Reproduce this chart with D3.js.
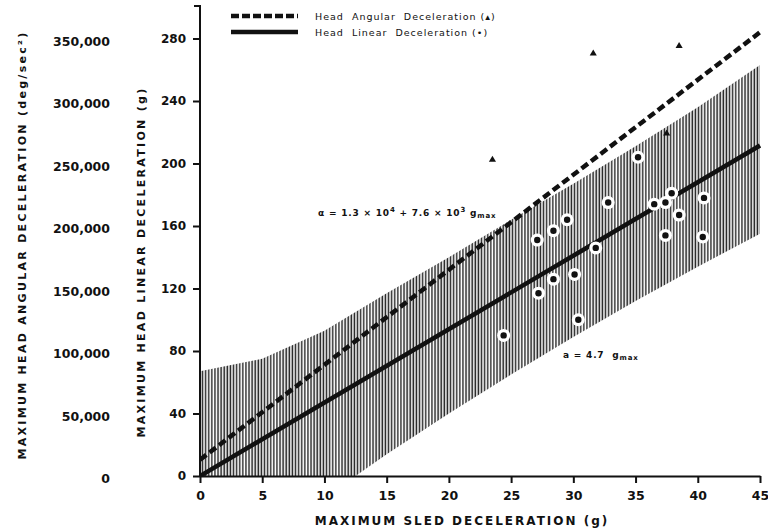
<!DOCTYPE html>
<html><head><meta charset="utf-8">
<script src="https://cdn.jsdelivr.net/npm/d3@7"></script>
<style>body{margin:0;background:#fff}svg{display:block}</style>
</head><body><svg id="c" width="768" height="532"></svg>
<script>
// ---- data ----
const xTicks = [0, 5, 10, 15, 20, 25, 30, 35, 40, 45];
const linearTicks = [0, 40, 80, 120, 160, 200, 240, 280];
const angularTicks = [0, 50000, 100000, 150000, 200000, 250000, 300000, 350000];
const angularTickLabels = ["0", "50,000", "100,000", "150,000", "200,000", "250,000", "300,000", "350,000"];

// Head linear deceleration points (g_sled, a in g)
const linearG = [24.4, 27.1, 27.2, 28.4, 28.4, 29.5, 30.1, 30.4, 31.8, 32.8, 35.2, 36.5, 37.4, 37.9, 38.5, 37.4, 40.5, 40.4];
const linearA = [90, 151, 117, 157, 126, 164, 129, 100, 146, 175, 204, 174, 175, 181, 167, 154, 178, 153];

// Head angular deceleration points (g_sled, alpha in deg/sec^2)
const angularG = [23.5, 31.6, 37.5, 38.5];
const angularAlpha = [253000, 338000, 274000, 344000];

// Regression lines: value = intercept + slope * g
const linearFit = [0, 4.7];
const angularFit = [13000, 7600];
const fitRange = [0, 45];

// Scatter band around linear regression (g, upper, lower in g)
const bandG = [0, 5, 10, 15, 20, 25, 30, 35, 40, 45];
const bandUpper = [67, 75, 93, 117, 140, 164, 187, 211, 236, 263];
const bandLower = [-60, -38, -14, 14, 40, 65, 89, 112, 134, 155];

const legendLabels = ["Head  Angular  Deceleration (\u25B4)", "Head  Linear  Deceleration (\u2022)"];
const xTitle = "MAXIMUM  SLED  DECELERATION   (g)";
const yTitle = "MAXIMUM  HEAD  LINEAR  DECELERATION   (g)";
const y2Title = "MAXIMUM  HEAD  ANGULAR  DECELERATION   (deg/sec\u00B2)";
const eqAngular = ["\u03B1 = 1.3 \u00D7 10", "4", " + 7.6 \u00D7 10", "3", " g", "max"];
const eqLinear = ["a = 4.7  g", "max"];

// ---- drawing ----
const svg = d3.select("#c");
const x = d3.scaleLinear().domain([0, 45]).range([200, 760]);
const y = d3.scaleLinear().domain([0, 280]).range([476, 38.5]);
const yA = d3.scaleLinear().domain([0, 350000]).range([476, 38.5]);
const font = "'DejaVu Sans', sans-serif";
const ink = "#111";

const defs = svg.append("defs");
defs.append("clipPath").attr("id", "plot").append("rect")
  .attr("x", 200).attr("y", 4).attr("width", 562).attr("height", 472);
const pat = defs.append("pattern").attr("id", "hatch").attr("patternUnits", "userSpaceOnUse")
  .attr("width", 3.1).attr("height", 10);
pat.append("rect").attr("x", 0.3).attr("y", 0).attr("width", 1.5).attr("height", 10).attr("fill", "#1a1a1a");

const g = svg.append("g").attr("clip-path", "url(#plot)");

// band
const band = bandG.map((v, i) => ({g: v, u: bandUpper[i], l: bandLower[i]}));
g.append("path").datum(band)
  .attr("d", d3.area().x(d => x(d.g)).y0(d => y(d.l)).y1(d => y(d.u)))
  .attr("fill", "url(#hatch)").attr("opacity", 0.95);

// regression lines
const lin = fitRange.map(v => ({g: v, v: linearFit[0] + linearFit[1] * v}));
const ang = fitRange.map(v => ({g: v, v: angularFit[0] + angularFit[1] * v}));
g.append("path").datum(lin).attr("d", d3.line().x(d => x(d.g)).y(d => y(d.v)))
  .attr("stroke", ink).attr("stroke-width", 4.5).attr("fill", "none");
g.append("path").datum(ang).attr("d", d3.line().x(d => x(d.g)).y(d => yA(d.v)))
  .attr("stroke", ink).attr("stroke-width", 4.5).attr("fill", "none")
  .attr("stroke-dasharray", "8,4");

// linear points
const lp = linearG.map((v, i) => ({g: v, a: linearA[i]}));
g.selectAll(".halo").data(lp).join("circle")
  .attr("cx", d => x(d.g)).attr("cy", d => y(d.a)).attr("r", 6.5).attr("fill", "#fff");
g.selectAll(".dot").data(lp).join("circle").attr("class", "dot")
  .attr("cx", d => x(d.g)).attr("cy", d => y(d.a)).attr("r", 3.2).attr("fill", ink);

// angular points
const ap = angularG.map((v, i) => ({g: v, a: angularAlpha[i]}));
g.selectAll(".tri").data(ap).join("path").attr("class", "tri")
  .attr("transform", d => `translate(${x(d.g)},${yA(d.a)})`)
  .attr("d", d3.symbol(d3.symbolTriangle, 22)).attr("fill", ink);

// x axis
const xAxis = svg.append("g").attr("transform", "translate(0,476)")
  .call(d3.axisBottom(x).tickValues(xTicks).tickSize(7).tickSizeOuter(0).tickFormat(d3.format("d")));
xAxis.select(".domain").attr("stroke", ink).attr("stroke-width", 2);
xAxis.selectAll(".tick line").attr("stroke", ink).attr("stroke-width", 2);
xAxis.selectAll("text").attr("font-family", font).attr("font-weight", "bold")
  .attr("font-size", 12.5).attr("fill", ink).attr("dy", "1.1em");

// y axis (linear)
const yAxis = svg.append("g").attr("transform", "translate(200,0)")
  .call(d3.axisLeft(y).tickValues(linearTicks).tickSize(7).tickSizeOuter(0).tickPadding(7));
yAxis.select(".domain").attr("d", `M0,${y(0)}V6H-6`).attr("stroke", ink).attr("stroke-width", 2);
yAxis.selectAll(".tick line").attr("stroke", ink).attr("stroke-width", 2);
yAxis.selectAll("text").attr("font-family", font).attr("font-weight", "bold")
  .attr("font-size", 12).attr("fill", ink);

// angular axis labels (no line)
const yAxis2 = svg.append("g").attr("transform", "translate(110,0)")
  .call(d3.axisLeft(yA).tickValues(angularTicks).tickSize(0).tickPadding(0)
    .tickFormat((d, i) => angularTickLabels[i]));
yAxis2.select(".domain").remove();
yAxis2.selectAll("text").attr("font-family", font).attr("font-weight", "bold")
  .attr("font-size", 12.5).attr("fill", ink).attr("dy", "0.55em");

// titles
svg.append("text").attr("x", 462).attr("y", 525).attr("text-anchor", "middle")
  .attr("font-family", font).attr("font-weight", "bold").attr("font-size", 12)
  .attr("letter-spacing", 2).attr("fill", ink).text(xTitle);
svg.append("text").attr("transform", "translate(145,262) rotate(-90)").attr("text-anchor", "middle")
  .attr("font-family", font).attr("font-weight", "bold").attr("font-size", 11)
  .attr("letter-spacing", 2.3).attr("fill", ink).text(yTitle);
svg.append("text").attr("transform", "translate(26,245) rotate(-90)").attr("text-anchor", "middle")
  .attr("font-family", font).attr("font-weight", "bold").attr("font-size", 11)
  .attr("letter-spacing", 2.3).attr("fill", ink).text(y2Title);

// legend
const leg = svg.append("g");
[0, 1].forEach(i => {
  const yy = 16 + i * 16;
  leg.append("line").attr("x1", 231).attr("x2", 298).attr("y1", yy).attr("y2", yy)
    .attr("stroke", ink).attr("stroke-width", 4.5)
    .attr("stroke-dasharray", i === 0 ? "8,3" : null);
  leg.append("text").attr("x", 315).attr("y", yy + 3.5)
    .attr("font-family", font).attr("font-size", 9.5).attr("letter-spacing", 1)
    .attr("fill", ink).attr("xml:space", "preserve").text(legendLabels[i]);
});

// equations
function eq(parts, x0, y0) {
  const t = svg.append("text").attr("x", x0).attr("y", y0).attr("font-family", font)
    .attr("font-size", 9).attr("font-weight", "bold").attr("letter-spacing", 0.8)
    .attr("fill", ink).attr("xml:space", "preserve");
  parts.forEach((p, i) => {
    const s = t.append("tspan").text(p);
    if (parts.length === 6 && (i === 1 || i === 3)) s.attr("font-size", 7).attr("dy", -4);
    if (parts.length === 6 && (i === 2 || i === 4)) s.attr("dy", 4);
    if (p === "max") s.attr("font-size", 7).attr("dy", 2);
  });
}
eq(eqAngular, 318, 216);
eq(eqLinear, 563, 358);
</script></body></html>
